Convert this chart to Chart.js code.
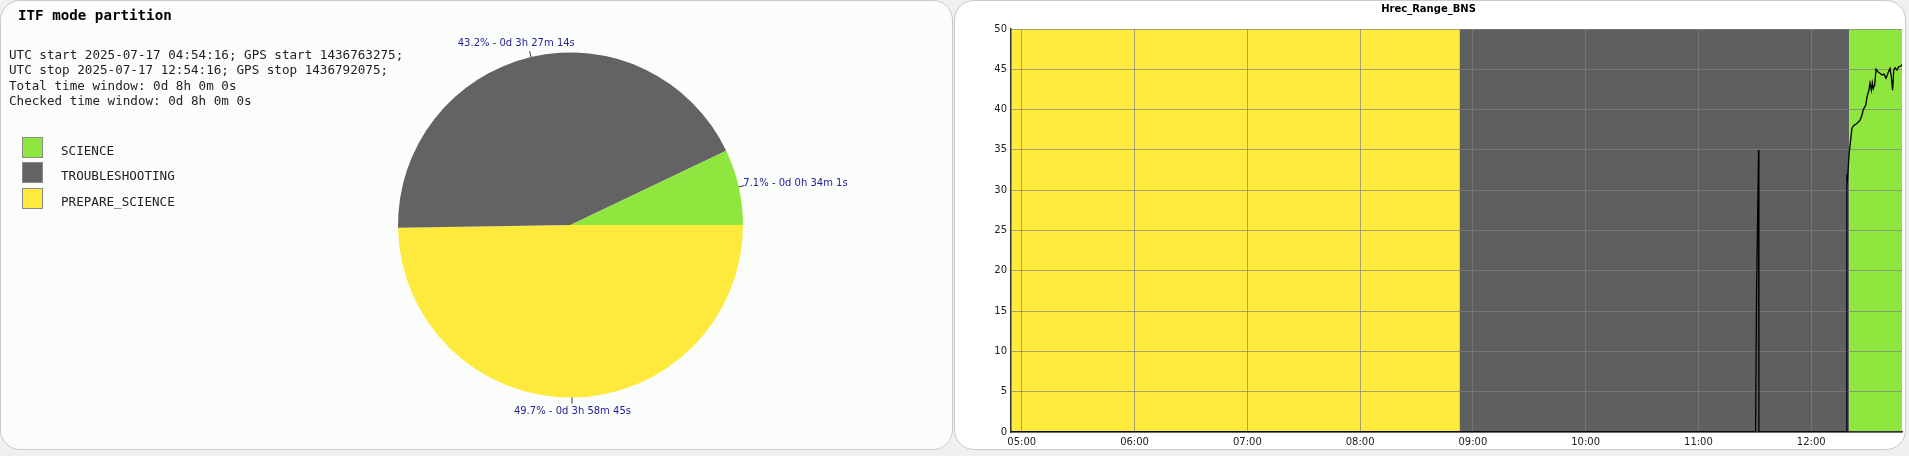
<!DOCTYPE html>
<html lang="en">
<head>
    <meta charset="UTF-8">
    <title>ITF mode partition</title>
    <script src="https://cdn.jsdelivr.net/npm/chart.js@4"></script>
    <style>
        body { margin: 0; width: 1909px; height: 456px; background: #f0f0f0; position: relative; overflow: hidden; }
        .panel { position: absolute; top: 0; height: 450px; box-sizing: border-box; border: 1px solid #c9c9c9; border-radius: 20px; }
        #panel_left { left: 0; width: 953px; background: #fbfdfb; }
        #panel_right { left: 954px; width: 952px; background: #ffffff; }
        .box { position: absolute; }
        .mono { font-family: "DejaVu Sans Mono", monospace; color: #222; white-space: pre; }
        #titulo { left: 18px; top: 7px; font-size: 14.2px; font-weight: bold; color: #000; }
        #info { left: 9px; top: 47px; font-size: 12.6px; line-height: 15.4px; }
        .leg_item { position: absolute; left: 22px; height: 21px; }
        .leg_cor { position: absolute; left: 0; top: 0; width: 21px; height: 21px; box-sizing: border-box; border: 1px solid #8a8a8a; }
        .leg_txt { position: absolute; left: 39px; top: 7px; font-size: 12.6px; line-height: 14px; }
    </style>
</head>
<body>
    <div class="panel" id="panel_left"></div>
    <div class="panel" id="panel_right"></div>

    <div class="box" style="left:1px; top:1px; width:950px; height:447px;">
        <canvas id="graficoPizza"></canvas>
    </div>
    <div class="box" style="left:955px; top:0px; width:950px; height:449px;">
        <canvas id="graficoLinha"></canvas>
    </div>

    <div class="box mono" id="titulo">ITF mode partition</div>
    <div class="box mono" id="info"></div>
    <div class="box" id="legenda"></div>

<script>
    // modos (ordem da legenda)
    const modeNames = ['SCIENCE', 'TROUBLESHOOTING', 'PREPARE_SCIENCE'];
    const modeSeconds = [2041, 12434, 14325];
    const modeColors = ['#8ee63e', '#646264', '#fdea3c'];

    // faixas de modo na linha do tempo
    const bandModes = ['PREPARE_SCIENCE', 'TROUBLESHOOTING', 'SCIENCE'];
    const bandStarts = ['04:54:16', '08:53:01', '12:20:15'];
    const bandEnds = ['08:53:01', '12:20:15', '12:54:16'];
    const bandColors = { SCIENCE: '#8ee63e', TROUBLESHOOTING: '#5f5f5f', PREPARE_SCIENCE: '#ffeb3b' };

    // Hrec_Range_BNS
    const lineTimes = ['04:54:16', '11:30:24', '11:30:56', '11:32:00', '11:32:10', '12:18:55', '12:19:00', '12:19:20',
        '12:20:10', '12:21:40', '12:22:36', '12:24:24', '12:26:00', '12:27:00', '12:27:42', '12:29:06', '12:29:42',
        '12:30:42', '12:31:18', '12:32:00', '12:32:30', '12:33:00', '12:33:48', '12:34:30', '12:35:30', '12:36:36',
        '12:37:36', '12:38:42', '12:39:48', '12:40:48', '12:41:54', '12:42:36', '12:43:18', '12:43:54', '12:44:36',
        '12:45:36', '12:46:30', '12:47:48', '12:48:18'];
    const lineValues = [0, 0, 17.6, 35, 0, 0, 32.0, 31.5,
        34.5, 37.7, 38.0, 38.3, 38.7, 39.3, 40.0, 40.6, 41.6,
        42.4, 43.3, 42.4, 43.3, 42.6, 43.1, 45.0, 44.7, 44.5,
        44.3, 44.4, 43.9, 44.5, 45.1, 44.1, 42.4, 44.9, 45.2,
        44.9, 45.3, 45.4, 45.6];

    const xMin = '04:54:16';
    const xMax = '12:48:18';
    const yTicks = [0, 5, 10, 15, 20, 25, 30, 35, 40, 45, 50];

    const infoLines = [
        'UTC start 2025-07-17 04:54:16; GPS start 1436763275;',
        'UTC stop 2025-07-17 12:54:16; GPS stop 1436792075;',
        'Total time window: 0d 8h 0m 0s',
        'Checked time window: 0d 8h 0m 0s'
    ];

    function horas(t) {
        var p = t.split(':').map(Number);
        return p[0] + p[1] / 60 + p[2] / 3600;
    }

    function duracao(seg) {
        var d = Math.floor(seg / 86400);
        var h = Math.floor((seg % 86400) / 3600);
        var m = Math.floor((seg % 3600) / 60);
        var s = seg % 60;
        return `${d}d ${h}h ${m}m ${s}s`;
    }

    info.textContent = infoLines.join('\n');

    modeNames.forEach((nome, i) => {
        legenda.innerHTML += `<div class="leg_item" style="top:${137 + i * 25.3}px">
            <div class="leg_cor" style="background:${modeColors[i]}"></div>
            <div class="leg_txt mono">${nome}</div></div>`;
    });

    const totalSeg = modeSeconds.reduce((a, b) => a + b, 0);

    // rotulos da pizza com tracinho
    const rotulosPizza = {
        id: 'rotulosPizza',
        afterDraw(chart) {
            const c = chart.ctx;
            const meta = chart.getDatasetMeta(0);
            const valores = chart.data.datasets[0].data;
            c.save();
            c.font = '10px "DejaVu Sans"';
            c.textAlign = 'center';
            c.textBaseline = 'middle';
            meta.data.forEach((arco, i) => {
                const a = (arco.startAngle + arco.endAngle) / 2;
                const r = arco.outerRadius;
                const cx = arco.x, cy = arco.y;
                const cos = Math.cos(a), sin = Math.sin(a);
                c.strokeStyle = '#333';
                c.lineWidth = 1;
                c.beginPath();
                c.moveTo(cx + cos * r, cy + sin * r);
                c.lineTo(cx + cos * (r + 6), cy + sin * (r + 6));
                c.stroke();
                const texto = (valores[i] / totalSeg * 100).toFixed(1) + '% - ' + duracao(valores[i]);
                const w = c.measureText(texto).width;
                const px = cx + cos * (r + 6), py = cy + sin * (r + 6);
                c.fillStyle = '#23239a';
                c.fillText(texto, px + cos * w / 2, py + sin * 8);
            });
            c.restore();
        }
    };

    new Chart(document.getElementById('graficoPizza'), {
        type: 'pie',
        data: {
            labels: modeNames.slice().reverse(),
            datasets: [{
                data: modeSeconds.slice().reverse(),
                backgroundColor: modeColors.slice().reverse(),
                borderWidth: 0,
                hoverOffset: 0
            }]
        },
        options: {
            responsive: true,
            maintainAspectRatio: false,
            animation: false,
            events: [],
            rotation: 90,
            layout: { padding: { left: 397, top: 50, right: 208, bottom: 49 } },
            plugins: { legend: { display: false }, tooltip: { enabled: false } }
        },
        plugins: [rotulosPizza]
    });

    // faixas coloridas por modo, atras da grade
    const faixasModo = {
        id: 'faixasModo',
        beforeDraw(chart) {
            const c = chart.ctx;
            const area = chart.chartArea;
            const x = chart.scales.x;
            c.save();
            c.beginPath();
            c.rect(area.left, area.top, area.right - area.left, area.bottom - area.top);
            c.clip();
            bandModes.forEach((modo, i) => {
                const x0 = x.getPixelForValue(horas(bandStarts[i]));
                const x1 = x.getPixelForValue(horas(bandEnds[i]));
                c.fillStyle = bandColors[modo];
                c.fillRect(x0, area.top, x1 - x0, area.bottom - area.top);
            });
            c.restore();
        }
    };

    const pontos = lineTimes.map((t, i) => ({ x: horas(t), y: lineValues[i] }));

    new Chart(document.getElementById('graficoLinha'), {
        type: 'line',
        data: {
            datasets: [{
                label: 'Hrec_Range_BNS',
                data: pontos,
                borderColor: '#000',
                borderWidth: 1.3,
                pointRadius: 0,
                tension: 0
            }]
        },
        options: {
            responsive: true,
            maintainAspectRatio: false,
            animation: false,
            events: [],
            layout: { padding: { left: 0, top: 0, right: 3, bottom: 0 } },
            scales: {
                x: {
                    type: 'linear',
                    min: horas(xMin),
                    max: horas(xMax),
                    afterFit: s => { s.height = 17; },
                    border: { color: '#333', width: 1.5 },
                    grid: { color: 'rgba(128,128,128,0.7)', lineWidth: 1, drawTicks: false },
                    ticks: {
                        stepSize: 1,
                        includeBounds: false,
                        padding: 4,
                        maxRotation: 0,
                        color: '#222',
                        font: { family: 'DejaVu Sans', size: 10 },
                        callback: v => String(Math.floor(v)).padStart(2, '0') + ':00'
                    }
                },
                y: {
                    min: yTicks[0],
                    max: yTicks[yTicks.length - 1],
                    afterFit: s => { s.width = 56; },
                    afterBuildTicks: s => { s.ticks = yTicks.map(v => ({ value: v })); },
                    border: { color: '#333', width: 1.5 },
                    grid: { color: 'rgba(128,128,128,0.7)', lineWidth: 1, drawTicks: false },
                    ticks: {
                        padding: 4,
                        color: '#222',
                        font: { family: 'DejaVu Sans', size: 10 }
                    }
                }
            },
            plugins: {
                legend: { display: false },
                tooltip: { enabled: false },
                title: {
                    display: true,
                    text: 'Hrec_Range_BNS',
                    color: '#000',
                    font: { family: 'DejaVu Sans', size: 10, weight: 'bold', lineHeight: 1.2 },
                    padding: { top: 3, bottom: 14 }
                }
            }
        },
        plugins: [faixasModo]
    });
</script>
</body>
</html>
